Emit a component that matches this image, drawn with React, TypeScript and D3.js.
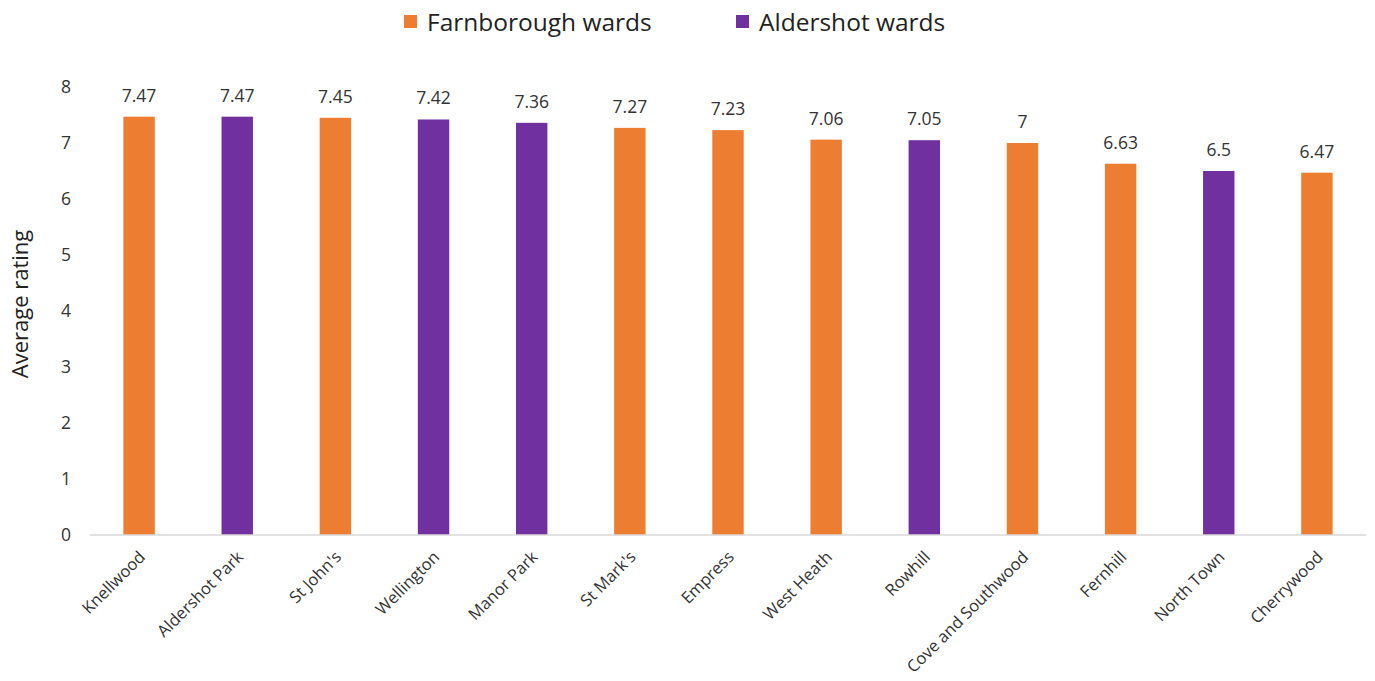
import React, { useRef, useEffect } from "react";
import * as d3 from "d3";

const wards = [
  "Knellwood",
  "Aldershot Park",
  "St John's",
  "Wellington",
  "Manor Park",
  "St Mark's",
  "Empress",
  "West Heath",
  "Rowhill",
  "Cove and Southwood",
  "Fernhill",
  "North Town",
  "Cherrywood",
];
const ratings = [7.47, 7.47, 7.45, 7.42, 7.36, 7.27, 7.23, 7.06, 7.05, 7, 6.63, 6.5, 6.47];
const towns = ["F", "A", "F", "A", "A", "F", "F", "F", "A", "F", "F", "A", "F"];
const seriesNames = ["Farnborough wards", "Aldershot wards"];
const yTicks = [0, 1, 2, 3, 4, 5, 6, 7, 8];

const ORANGE = "#ED7D31";
const PURPLE = "#7030A0";
const FONT = "'Open Sans', 'Noto Sans', sans-serif";

function drawChart(el: SVGSVGElement, width: number, height: number) {
  const svg = d3.select(el);
  svg.selectAll("*").remove();

  const margin = { top: 87, right: 9, bottom: 146, left: 90 };
  const innerW = width - margin.left - margin.right;
  const innerH = height - margin.top - margin.bottom;

  const x = d3.scaleBand<string>().domain(wards).range([0, innerW]).padding(0);
  const y = d3.scaleLinear().domain([0, 8]).range([innerH, 0]);
  const barW = x.bandwidth() * 0.32;

  const g = svg.append("g").attr("transform", `translate(${margin.left},${margin.top})`);

  // y tick labels only, no axis line or gridlines
  g.selectAll("text.ytick")
    .data(yTicks)
    .enter()
    .append("text")
    .attr("class", "ytick")
    .attr("x", -19)
    .attr("y", (d) => y(d))
    .attr("dy", "0.35em")
    .attr("text-anchor", "end")
    .attr("font-family", FONT)
    .attr("font-size", 17.5)
    .attr("fill", "#333")
    .text((d) => d);

  g.selectAll("rect.bar")
    .data(wards)
    .enter()
    .append("rect")
    .attr("class", "bar")
    .attr("x", (d) => (x(d) as number) + x.bandwidth() / 2 - barW / 2)
    .attr("y", (_, i) => y(ratings[i]))
    .attr("width", barW)
    .attr("height", (_, i) => innerH - y(ratings[i]))
    .attr("fill", (_, i) => (towns[i] === "F" ? ORANGE : PURPLE));

  g.append("line")
    .attr("x1", 0)
    .attr("x2", innerW)
    .attr("y1", y(0))
    .attr("y2", y(0))
    .attr("stroke", "#d9d9d9")
    .attr("stroke-width", 1.5);

  // value labels
  g.selectAll("text.val")
    .data(wards)
    .enter()
    .append("text")
    .attr("class", "val")
    .attr("x", (d) => (x(d) as number) + x.bandwidth() / 2)
    .attr("y", (_, i) => y(ratings[i]) - 15)
    .attr("text-anchor", "middle")
    .attr("font-family", FONT)
    .attr("font-size", 17.5)
    .attr("fill", "#333")
    .text((_, i) => ratings[i]);

  // category labels at -45deg
  g.selectAll("text.xlab")
    .data(wards)
    .enter()
    .append("text")
    .attr("class", "xlab")
    .attr(
      "transform",
      (d) => `translate(${(x(d) as number) + x.bandwidth() / 2 + 7},${innerH + 23}) rotate(-45)`
    )
    .attr("text-anchor", "end")
    .attr("font-family", FONT)
    .attr("font-size", 16.5)
    .attr("fill", "#333")
    .text((d) => d);

  // y axis title
  svg
    .append("text")
    .attr("transform", `translate(28,304) rotate(-90)`)
    .attr("text-anchor", "middle")
    .attr("font-family", FONT)
    .attr("font-size", 22)
    .attr("fill", "#222")
    .text("Average rating");

  // legend
  const legendX = [404, 736];
  const legend = svg
    .selectAll("g.legend")
    .data(seriesNames)
    .enter()
    .append("g")
    .attr("class", "legend")
    .attr("transform", (_, i) => `translate(${legendX[i]},15)`);
  legend
    .append("rect")
    .attr("width", 13)
    .attr("height", 13)
    .attr("fill", (_, i) => (i === 0 ? ORANGE : PURPLE));
  legend
    .append("text")
    .attr("x", 23)
    .attr("y", 7)
    .attr("dy", "0.35em")
    .attr("font-family", FONT)
    .attr("font-size", 24.5)
    .attr("fill", "#222")
    .text((d) => d);
}

const App: React.FunctionComponent = function () {
  const ref = useRef<SVGSVGElement>(null);
  const width = 1375;
  const height = 681;

  useEffect(() => {
    if (ref.current == null) return;
    drawChart(ref.current, width, height);
  }, []);

  return (
    <svg
      ref={ref}
      width={width}
      height={height}
      style={{ position: "absolute", left: 0, top: 0, background: "#fff" }}
    />
  );
};

export default App;
